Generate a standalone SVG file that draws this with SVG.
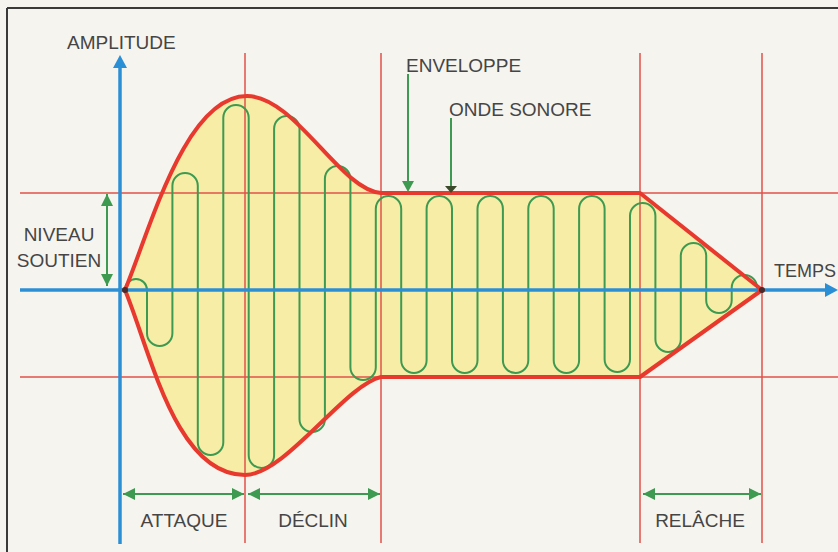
<svg xmlns="http://www.w3.org/2000/svg" width="838" height="552" viewBox="0 0 838 552">
  <style>
    .lbl { font-family: "Liberation Sans", Arial, sans-serif; font-size: 19px; fill: #454545; }
    .guide { stroke: #e0524a; stroke-width: 1.5; fill: none; }
    .axis { stroke: #2b8fd6; stroke-width: 3.5; fill: none; }
    .dim { stroke: #3d9a50; stroke-width: 2; fill: none; marker-start: url(#ga); marker-end: url(#ga); }
    .wave { stroke: #3d9a50; stroke-width: 2; fill: none; }
    .env { stroke: #e8392e; stroke-width: 4; stroke-linejoin: round; }
  </style>
  <defs>
    <marker id="ga" viewBox="0 0 12 12" refX="12" refY="6" markerWidth="12" markerHeight="12" markerUnits="userSpaceOnUse" orient="auto-start-reverse">
      <path d="M0,0 L12,6 L0,12 z" fill="#3d9a50"/>
    </marker>
  </defs>

  <rect x="0" y="0" width="838" height="552" fill="#f6f4ef"/>

  <g id="frame">
    <line x1="7" y1="8" x2="838" y2="8" stroke="#3a3a3a" stroke-width="2"/>
    <line x1="7" y1="8" x2="7" y2="552" stroke="#3a3a3a" stroke-width="2"/>
  </g>

  <g id="envelope-fill">
    <path d="M125,290 C150,230 185,96 247,96 C295,96 340,190 381,193 L640,193 L762,290 L640,377 L381,377 C345,385 285,475 245,475 C175,475 150,350 125,290 Z" fill="#f7eda6"/>
  </g>

  <g id="guides">
    <line class="guide" x1="20" y1="193" x2="838" y2="193"/>
    <line class="guide" x1="20" y1="377" x2="838" y2="377"/>
    <line class="guide" x1="245" y1="53" x2="245" y2="543"/>
    <line class="guide" x1="381" y1="53" x2="381" y2="543"/>
    <line class="guide" x1="640" y1="53" x2="640" y2="543"/>
    <line class="guide" x1="762" y1="53" x2="762" y2="543"/>
  </g>

  <g id="sound-wave">
    <path class="wave" d="M125,290 A11,11 0 0 1 147,290 L147,333.3 A12.7,12.7 0 0 0 172.4,333.3 L172.4,185.7 A12.7,12.7 0 0 1 197.8,185.7 L197.8,442.3 A12.7,12.7 0 0 0 223.3,442.3 L223.3,117.7 A12.7,12.7 0 0 1 248.7,117.7 L248.7,455.3 A12.7,12.7 0 0 0 274.1,455.3 L274.1,128.7 A12.7,12.7 0 0 1 299.5,128.7 L299.5,419.3 A12.7,12.7 0 0 0 324.9,419.3 L324.9,178.7 A12.7,12.7 0 0 1 350.4,178.7 L350.4,367.3 A12.7,12.7 0 0 0 375.8,367.3 L375.8,208.7 A12.7,12.7 0 0 1 401.2,208.7 L401.2,360.3 A12.7,12.7 0 0 0 426.6,360.3 L426.6,208.7 A12.7,12.7 0 0 1 452,208.7 L452,360.3 A12.7,12.7 0 0 0 477.5,360.3 L477.5,208.7 A12.7,12.7 0 0 1 502.9,208.7 L502.9,360.3 A12.7,12.7 0 0 0 528.3,360.3 L528.3,208.7 A12.7,12.7 0 0 1 553.7,208.7 L553.7,360.3 A12.7,12.7 0 0 0 579.1,360.3 L579.1,208.7 A12.7,12.7 0 0 1 604.6,208.7 L604.6,359.3 A12.7,12.7 0 0 0 630,359.3 L630,215.7 A12.7,12.7 0 0 1 655.4,215.7 L655.4,339.3 A12.7,12.7 0 0 0 680.8,339.3 L680.8,255.7 A12.7,12.7 0 0 1 706.2,255.7 L706.2,300.3 A12.7,12.7 0 0 0 731.7,300.3 L731.7,287.7 A12.7,12.7 0 0 1 757.1,287.7 L762,290"/>
  </g>

  <g id="axes">
    <line class="axis" x1="120" y1="66" x2="120" y2="544"/>
    <polygon points="120,55 127,68 113,68" fill="#2b8fd6"/>
    <line class="axis" x1="20" y1="290" x2="827" y2="290"/>
    <polygon points="838,290 825,283 825,297" fill="#2b8fd6"/>
  </g>

  <g id="envelope">
    <path class="env" fill="none" d="M125,290 C150,230 185,96 247,96 C295,96 340,190 381,193 L640,193 L762,290 L640,377 L381,377 C345,385 285,475 245,475 C175,475 150,350 125,290 Z"/>
    <circle cx="125" cy="290" r="3" fill="#4a2a2a"/>
    <circle cx="762" cy="290" r="3" fill="#4a2a2a"/>
  </g>

  <g id="connectors">
    <line x1="408" y1="74" x2="408" y2="182" stroke="#3d9a50" stroke-width="2"/>
    <polygon points="408,192 402,181 414,181" fill="#3d9a50"/>
    <line x1="451" y1="118" x2="451" y2="187" stroke="#3d9a50" stroke-width="2"/>
    <polygon points="451,193 445,186 457,186" fill="#3b4a2a"/>
    <line class="dim" x1="107" y1="194" x2="107" y2="286"/>
    <line class="dim" x1="123" y1="494" x2="244" y2="494"/>
    <line class="dim" x1="248" y1="494" x2="380" y2="494"/>
    <line class="dim" x1="643" y1="494" x2="761" y2="494"/>
  </g>

  <g id="label-amplitude"><text class="lbl" x="67" y="48.5">AMPLITUDE</text></g>
  <g id="label-enveloppe"><text class="lbl" x="406" y="71.5">ENVELOPPE</text></g>
  <g id="label-onde"><text class="lbl" x="449" y="115.5">ONDE SONORE</text></g>
  <g id="label-temps"><text class="lbl" x="774" y="277" style="font-size:18px">TEMPS</text></g>
  <g id="label-niveau">
    <text class="lbl" x="59" y="241" text-anchor="middle">NIVEAU</text>
    <text class="lbl" x="59" y="267" text-anchor="middle">SOUTIEN</text>
  </g>
  <g id="label-attaque"><text class="lbl" x="184" y="527" text-anchor="middle">ATTAQUE</text></g>
  <g id="label-declin"><text class="lbl" x="313" y="527" text-anchor="middle">DÉCLIN</text></g>
  <g id="label-relache"><text class="lbl" x="700" y="527" text-anchor="middle">RELÂCHE</text></g>
</svg>
